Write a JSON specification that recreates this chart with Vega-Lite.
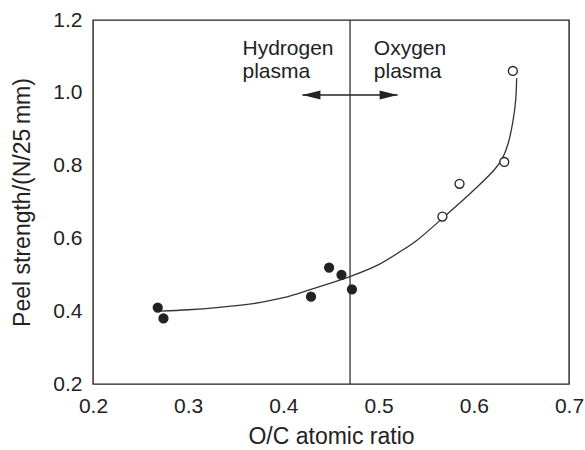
{
  "$schema": "https://vega.github.io/schema/vega-lite/v6.json",
  "autosize": "none",
  "width": 476,
  "height": 364,
  "padding": {"left": 93, "top": 20, "right": 16, "bottom": 66},
  "config": {
    "font": "Liberation Sans",
    "view": {"stroke": "#222", "strokeWidth": 1.4},
    "axis": {
      "domain": false,
      "grid": false,
      "ticks": false,
      "tickSize": 0,
      "labelFont": "Liberation Sans",
      "titleFont": "Liberation Sans",
      "labelFontSize": 21,
      "titleFontSize": 23,
      "labelColor": "#222",
      "titleColor": "#222",
      "titleFontWeight": "normal",
      "labelFlush": false
    }
  },
  "datasets": {
    "samples": [
      {"oc": 0.268, "peel": 0.41, "treatment": "Hydrogen plasma"},
      {"oc": 0.274, "peel": 0.38, "treatment": "Hydrogen plasma"},
      {"oc": 0.429, "peel": 0.44, "treatment": "Hydrogen plasma"},
      {"oc": 0.448, "peel": 0.52, "treatment": "Hydrogen plasma"},
      {"oc": 0.461, "peel": 0.50, "treatment": "Hydrogen plasma"},
      {"oc": 0.472, "peel": 0.46, "treatment": "Hydrogen plasma"},
      {"oc": 0.567, "peel": 0.66, "treatment": "Oxygen plasma"},
      {"oc": 0.585, "peel": 0.75, "treatment": "Oxygen plasma"},
      {"oc": 0.632, "peel": 0.81, "treatment": "Oxygen plasma"},
      {"oc": 0.641, "peel": 1.06, "treatment": "Oxygen plasma"}
    ],
    "trend": [
      {"oc": 0.270, "peel": 0.400},
      {"oc": 0.300, "peel": 0.404},
      {"oc": 0.330, "peel": 0.410},
      {"oc": 0.366, "peel": 0.420},
      {"oc": 0.400, "peel": 0.437},
      {"oc": 0.429, "peel": 0.460},
      {"oc": 0.460, "peel": 0.486},
      {"oc": 0.472, "peel": 0.497},
      {"oc": 0.500, "peel": 0.528},
      {"oc": 0.527, "peel": 0.571},
      {"oc": 0.539, "peel": 0.592},
      {"oc": 0.567, "peel": 0.655},
      {"oc": 0.601, "peel": 0.735},
      {"oc": 0.622, "peel": 0.790},
      {"oc": 0.630, "peel": 0.820},
      {"oc": 0.636, "peel": 0.860},
      {"oc": 0.641, "peel": 0.920},
      {"oc": 0.644, "peel": 0.980},
      {"oc": 0.645, "peel": 1.040}
    ],
    "xticks": [
      {"at": 0.20, "kind": "major"}, {"at": 0.25, "kind": "minor"},
      {"at": 0.30, "kind": "major"}, {"at": 0.35, "kind": "minor"},
      {"at": 0.40, "kind": "major"}, {"at": 0.45, "kind": "minor"},
      {"at": 0.50, "kind": "major"}, {"at": 0.55, "kind": "minor"},
      {"at": 0.60, "kind": "major"}, {"at": 0.65, "kind": "minor"},
      {"at": 0.70, "kind": "major"}
    ],
    "yticks": [
      {"at": 0.2, "kind": "major"}, {"at": 0.3, "kind": "minor"},
      {"at": 0.4, "kind": "major"}, {"at": 0.5, "kind": "minor"},
      {"at": 0.6, "kind": "major"}, {"at": 0.7, "kind": "minor"},
      {"at": 0.8, "kind": "major"}, {"at": 0.9, "kind": "minor"},
      {"at": 1.0, "kind": "major"}, {"at": 1.1, "kind": "minor"},
      {"at": 1.2, "kind": "major"}
    ],
    "divider": [{"oc": 0.47}],
    "arrow": [{"from": 0.42, "to": 0.52, "peel": 0.994}],
    "heads": [
      {"oc": 0.42, "peel": 0.994, "dir": "left"},
      {"oc": 0.52, "peel": 0.994, "dir": "right"}
    ],
    "notes": [
      {"oc": 0.357, "peel": 1.105, "label": "Hydrogen"},
      {"oc": 0.357, "peel": 1.040, "label": "plasma"},
      {"oc": 0.495, "peel": 1.105, "label": "Oxygen"},
      {"oc": 0.495, "peel": 1.040, "label": "plasma"}
    ]
  },
  "encoding": {
    "x": {
      "field": "oc",
      "type": "quantitative",
      "scale": {"domain": [0.2, 0.7], "nice": false, "zero": false},
      "axis": {
        "orient": "bottom",
        "title": "O/C atomic ratio",
        "values": [0.2, 0.3, 0.4, 0.5, 0.6, 0.7],
        "format": ".1f",
        "labelPadding": 11,
        "titlePadding": 9
      }
    },
    "y": {
      "field": "peel",
      "type": "quantitative",
      "scale": {"domain": [0.2, 1.2], "nice": false, "zero": false},
      "axis": {
        "orient": "left",
        "title": "Peel strength/(N/25\u2009mm)",
        "values": [0.2, 0.4, 0.6, 0.8, 1.0, 1.2],
        "format": ".1f",
        "labelPadding": 11,
        "titlePadding": 18
      }
    }
  },
  "layer": [
    {
      "data": {"name": "xticks"},
      "mark": {"type": "point", "shape": "M0,0 L0,-1", "filled": false, "stroke": "#333", "strokeWidth": 1.2, "opacity": 1},
      "encoding": {
        "x": {"field": "at", "type": "quantitative"},
        "y": {"datum": 0.2, "type": "quantitative"},
        "size": {"field": "kind", "type": "ordinal", "scale": {"domain": ["major", "minor"], "range": [196, 64]}, "legend": null}
      }
    },
    {
      "data": {"name": "xticks"},
      "mark": {"type": "point", "shape": "M0,0 L0,1", "filled": false, "stroke": "#333", "strokeWidth": 1.2, "opacity": 1},
      "encoding": {
        "x": {"field": "at", "type": "quantitative"},
        "y": {"datum": 1.2, "type": "quantitative"},
        "size": {"field": "kind", "type": "ordinal", "legend": null}
      }
    },
    {
      "data": {"name": "yticks"},
      "mark": {"type": "point", "shape": "M0,0 L1,0", "filled": false, "stroke": "#333", "strokeWidth": 1.2, "opacity": 1},
      "encoding": {
        "y": {"field": "at", "type": "quantitative"},
        "x": {"datum": 0.2, "type": "quantitative"},
        "size": {"field": "kind", "type": "ordinal", "legend": null}
      }
    },
    {
      "data": {"name": "yticks"},
      "mark": {"type": "point", "shape": "M0,0 L-1,0", "filled": false, "stroke": "#333", "strokeWidth": 1.2, "opacity": 1},
      "encoding": {
        "y": {"field": "at", "type": "quantitative"},
        "x": {"datum": 0.7, "type": "quantitative"},
        "size": {"field": "kind", "type": "ordinal", "legend": null}
      }
    },
    {
      "data": {"name": "divider"},
      "mark": {"type": "rule", "color": "#333", "strokeWidth": 1.3},
      "encoding": {"x": {"field": "oc", "type": "quantitative"}, "y": null}
    },
    {
      "data": {"name": "trend"},
      "mark": {"type": "line", "color": "#333", "strokeWidth": 1.3, "interpolate": "catmull-rom"},
      "encoding": {"order": {"field": "peel"}}
    },
    {
      "data": {"name": "arrow"},
      "mark": {"type": "rule", "color": "#222", "strokeWidth": 1.5},
      "encoding": {
        "x": {"field": "from", "type": "quantitative"},
        "x2": {"field": "to"}
      }
    },
    {
      "data": {"name": "heads"},
      "mark": {"type": "point", "filled": true, "color": "#222", "size": 324, "opacity": 1},
      "encoding": {
        "shape": {
          "field": "dir",
          "type": "nominal",
          "scale": {"domain": ["left", "right"], "range": ["M0,0 L2,-0.5 L2,0.5 Z", "M0,0 L-2,-0.5 L-2,0.5 Z"]},
          "legend": null
        }
      }
    },
    {
      "data": {"name": "samples"},
      "mark": {"type": "point", "shape": "circle", "size": 80, "stroke": "#222", "strokeWidth": 1.3, "opacity": 1},
      "encoding": {
        "fill": {
          "field": "treatment",
          "type": "nominal",
          "scale": {"domain": ["Hydrogen plasma", "Oxygen plasma"], "range": ["#222", "#ffffff"]},
          "legend": null
        }
      }
    },
    {
      "data": {"name": "notes"},
      "mark": {"type": "text", "align": "left", "baseline": "alphabetic", "fontSize": 21, "color": "#222", "font": "Liberation Sans"},
      "encoding": {"text": {"field": "label"}}
    }
  ]
}
